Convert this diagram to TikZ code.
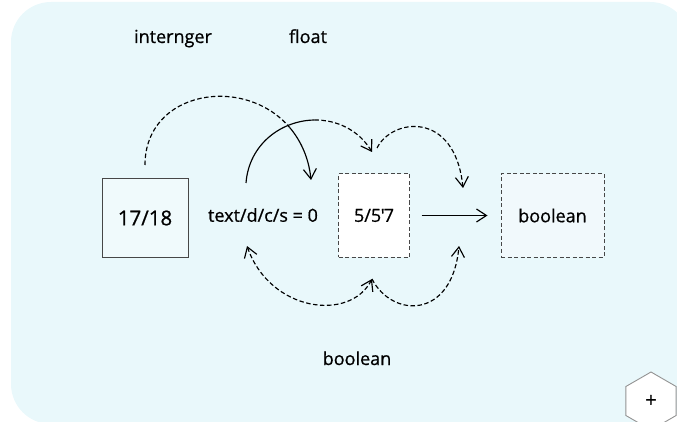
\documentclass[tikz,border=0pt]{standalone}
\usepackage{fontspec}
\setmainfont{Open Sans}[FakeBold=0.7]
\usepackage{tikz}
\usetikzlibrary{arrows.meta, shapes.geometric}
\definecolor{sky}{HTML}{E9F8FB}
\definecolor{edge}{HTML}{474747}
\definecolor{pale}{HTML}{F1F9FC}
\tikzset{
    solidbox/.style={draw=edge, line width=1pt, inner sep=0pt},
    dashbox/.style={draw=edge, line width=1pt, inner sep=0pt,
        dash pattern=on 4pt off 2.5pt, minimum height=83pt},
    dashline/.style={dash pattern=on 4.5pt off 2.5pt},
}

\begin{document}
\begin{tikzpicture}[x=1pt, y=-1pt, line width=1.15pt,
    >={Straight Barb[length=10pt, width=13pt]},
    font=\fontsize{18}{21}\selectfont]
    \useasboundingbox (0,0) rectangle (677,422);
    \clip (0,0) rectangle (677,422);
    \fill[sky, rounded corners=40pt] (11,2) rectangle (690,424);

    % the values
    \node[solidbox, fill=sky!70!white, minimum width=86pt, minimum height=78pt,
        font=\fontsize{20.5}{24}\selectfont] (frac) at (145,218) {17/18};
    \node (expr) at (263,215) {text/d/c/s = 0};
    \node[dashbox, fill=white, minimum width=71pt] (mix) at (374,215.5)
        {5/5\kern-0.5pt\textquotesingle\kern-1pt7};
    \node[dashbox, fill=pale, minimum width=103pt] (bool) at (552.5,215.5) {boolean};

    % type labels
    \node[anchor=base] (lint) at (173,43) {internger};
    \node[anchor=base] (lfloat) at (308,43) {float};
    \node[anchor=base] (lbool) at (357,365) {boolean};

    \draw[->, shorten <=11.5pt, shorten >=13pt] (mix) -- (bool);

    % arc ends
    \coordinate (a1) at (145,165);
    \coordinate (x1) at (289.5,127.3);
    \coordinate (b1) at (311,180);
    \coordinate (a2) at (246,183);
    \coordinate (x2) at (314.4,120);
    \coordinate (b2) at (372,152);
    \coordinate (a3) at (377,148);
    \coordinate (b3) at (463,188);
    \coordinate (a4) at (247,246);
    \coordinate (b4) at (372,279);
    \coordinate (b5) at (459,246);

    % upper arcs
    \draw[dashline] (a1) .. controls (145,90.6) and (244.2,74.4) .. (x1);
    \draw[->] (x1) .. controls (300.8,140.5) and (308.8,158) .. (b1);
    \draw (a2) .. controls (249,144) and (281.5,120.5) .. (x2);
    \draw[->, dashline] (x2) .. controls (336.3,119.7) and (358.4,129.6) .. (b2);
    \draw[->, dashline] (a3) .. controls (392,118) and (455,110) .. (b3);

    % lower arcs
    \draw[<->, dashline] (a4) .. controls (270,312) and (350,322) .. (b4);
    \draw[->, dashline] (b4) .. controls (392,318) and (452,320) .. (b5);

    \node[regular polygon, regular polygon sides=6, shape border rotate=30,
        minimum size=58pt, inner sep=0pt, draw=gray!85, line width=0.9pt,
        fill=white, font=\fontsize{20}{24}\selectfont] (plus) at (651,401) {+};
\end{tikzpicture}
\end{document}
